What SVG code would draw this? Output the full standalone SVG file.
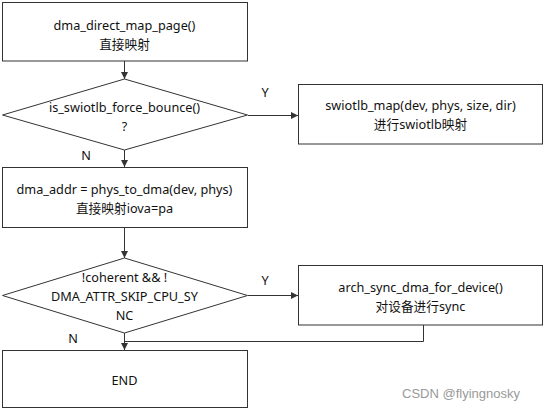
<svg xmlns="http://www.w3.org/2000/svg" width="545" height="410" viewBox="0 0 545 410">
<defs>
<marker id="ah" markerWidth="8" markerHeight="8" refX="7" refY="4" orient="auto" markerUnits="userSpaceOnUse">
<path d="M0,0.5 L7,4 L0,7.5 Z" fill="#333"/>
</marker>
<style>
.n{fill:#fff;stroke:#333;stroke-width:1}
.t{font-family:"Noto Sans","Noto Sans CJK SC",sans-serif;font-size:12.7px;fill:#111;text-anchor:middle}
.c{fill:none;stroke:#333;stroke-width:1}
.wm{font-family:"Liberation Sans",Arial,sans-serif;font-size:13px;fill:#999}
</style>
</defs>
<rect width="545" height="410" fill="#fff"/>
<g id="connectors">
<line class="c" x1="124.5" y1="61" x2="124.5" y2="79" marker-end="url(#ah)"/>
<line class="c" x1="248" y1="115.5" x2="298" y2="115.5" marker-end="url(#ah)"/>
<line class="c" x1="124.5" y1="150" x2="124.5" y2="167" marker-end="url(#ah)"/>
<line class="c" x1="124.5" y1="228" x2="124.5" y2="258" marker-end="url(#ah)"/>
<line class="c" x1="248" y1="295.5" x2="298" y2="295.5" marker-end="url(#ah)"/>
<line class="c" x1="124.5" y1="333" x2="124.5" y2="350" marker-end="url(#ah)"/>
<polyline class="c" points="423.5,325 423.5,341.5 124.5,341.5"/>
<text class="t" x="265" y="97">Y</text>
<text class="t" x="86" y="160">N</text>
<text class="t" x="265" y="285">Y</text>
<text class="t" x="73" y="343">N</text>
</g>
<g id="start">
<rect class="n" x="2.5" y="2.5" width="245" height="58.5"/>
<text class="t" x="124.5" y="30">dma_direct_map_page()</text>
<text class="t" x="124.5" y="49">直接映射</text>
</g>
<g id="force_bounce">
<polygon class="n" points="124.5,79 247.5,115 124.5,150 2.5,115"/>
<text class="t" x="124.5" y="112">is_swiotlb_force_bounce()</text>
<text class="t" x="124.5" y="131">?</text>
</g>
<g id="swiotlb_map">
<rect class="n" x="298.5" y="84.5" width="244" height="59.5"/>
<text class="t" x="420.5" y="110">swiotlb_map(dev, phys, size, dir)</text>
<text class="t" x="420.5" y="129">进行swiotlb映射</text>
</g>
<g id="phys_to_dma">
<rect class="n" x="2.5" y="167.5" width="245" height="60"/>
<text class="t" x="124.5" y="194">dma_addr = phys_to_dma(dev, phys)</text>
<text class="t" x="124.5" y="213">直接映射iova=pa</text>
</g>
<g id="coherent">
<polygon class="n" points="124.5,258 247.5,295.5 124.5,333 2.5,295.5"/>
<text class="t" x="124.5" y="282">!coherent &amp;&amp; !</text>
<text class="t" x="124.5" y="301">DMA_ATTR_SKIP_CPU_SY</text>
<text class="t" x="124.5" y="320">NC</text>
</g>
<g id="arch_sync">
<rect class="n" x="298.5" y="265.5" width="244" height="59.5"/>
<text class="t" x="420.5" y="292">arch_sync_dma_for_device()</text>
<text class="t" x="420.5" y="311">对设备进行sync</text>
</g>
<g id="end">
<rect class="n" x="2.5" y="350.5" width="245" height="57"/>
<text class="t" x="124.5" y="385">END</text>
</g>
<text class="wm" x="402" y="398">CSDN @flyingnosky</text>
</svg>
